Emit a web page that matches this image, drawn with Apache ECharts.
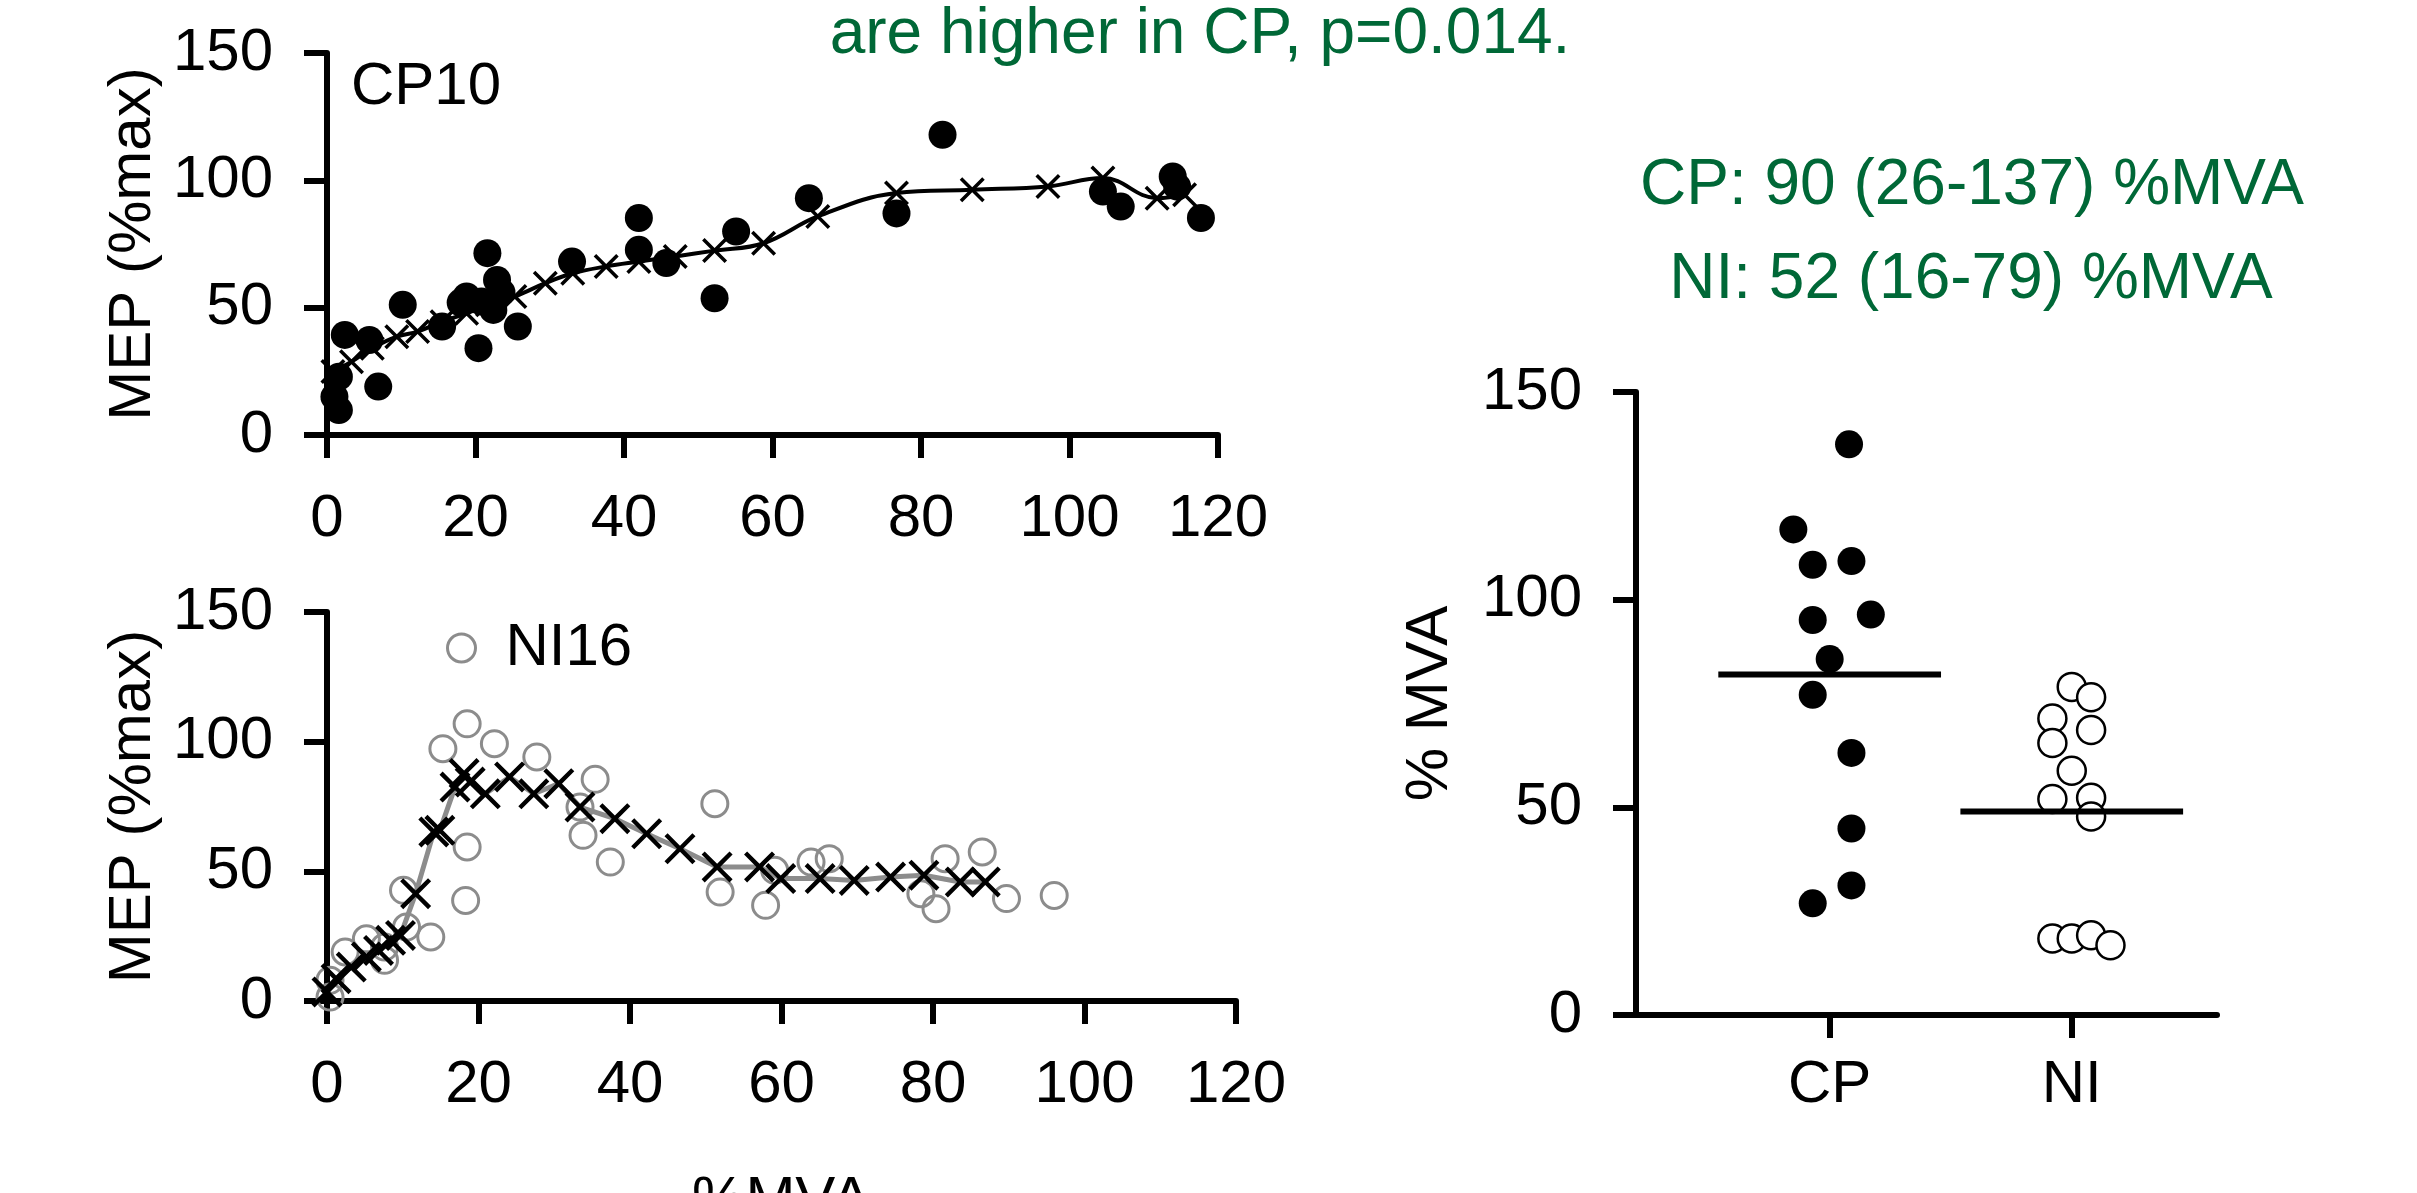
<!DOCTYPE html>
<html>
<head>
<meta charset="utf-8">
<title>MEP vs %MVA, CP and NI</title>
<script src="https://cdn.jsdelivr.net/npm/echarts@6/dist/echarts.min.js"></script>
<style>
html, body { margin: 0; padding: 0; background: #fff; }
#chart { width: 2417px; height: 1193px; }
</style>
</head>
<body>
<div id="chart"></div>
<script>
// CP10: single trials (%MVA, MEP %max)
const cpTrialMva = [82.9, 64.9, 76.7, 104.5, 106.9, 113.9, 114.5, 117.7, 42, 42, 45.7, 55.1, 52.2, 33, 21.6, 22.9, 18.8, 20.8, 22.4, 20.4, 25.7, 15.5, 10.2, 2.4, 5.7, 6.9, 1.6, 1.6, 1.0, 18, 23.5]
const cpTrialMep = [117.9, 93, 87, 95.6, 89.7, 101.5, 97.5, 85.2, 85.2, 72.7, 67.5, 79.9, 53.7, 68.1, 71.4, 60.9, 54.4, 52.4, 49.1, 34.1, 42.6, 42.6, 51.1, 39.3, 37.3, 19, 22.9, 9.8, 15, 52, 56]
// CP10: running average (crosses)
const cpAvgMva = [0.8, 3.3, 6.1, 9.4, 12.2, 15.5, 18.8, 21.6, 25.3, 29.4, 33.1, 37.6, 42, 46.9, 52.2, 58.8, 66.1, 76.7, 86.9, 97.1, 104.5, 111.8, 115.5]
const cpAvgMep = [24.9, 28.8, 34.1, 38.6, 40.6, 44.5, 47.8, 51.1, 54.4, 59.6, 63.5, 66.2, 68.1, 70.1, 72.4, 75.3, 85.8, 95, 96.3, 97.6, 100.9, 93, 94.3]

// NI16: single trials
const niTrialMva = [18.5, 15.3, 22.1, 27.7, 35.4, 33.4, 33.8, 37.4, 51.2, 51.9, 57.9, 59.1, 63.9, 66.3, 78.4, 80.4, 81.6, 86.5, 89.7, 96, 18.5, 18.3, 10.1, 13.7, 10.5, 7.6, 5.2, 2.4, 0.4, 0.4, 7.6]
const niTrialMep = [106.9, 97.3, 99.2, 94.1, 85.5, 74.8, 63.9, 53.6, 76.1, 42, 36.9, 50.4, 53.6, 54.9, 41.4, 35.6, 54.9, 57.5, 39.5, 40.7, 59.4, 38.8, 42.7, 24.7, 28.5, 15.7, 24, 18.9, 8, 1.5, 20.8]
// NI16: running average
const niAvgMva = [0, 1.2, 3.2, 5.2, 6.8, 8.4, 9.7, 11.7, 14.1, 14.9, 16.9, 18.1, 18.9, 20.9, 24.1, 27.3, 30.6, 33.4, 38, 42.2, 46.6, 51.5, 57.1, 59.9, 65.1, 69.6, 74.4, 78.8, 83.6, 86.9]
const niAvgMep = [3.5, 8.6, 13.1, 17, 19.5, 23.4, 25.3, 41.4, 65.2, 65.8, 82.5, 87.7, 84.4, 79.9, 86.4, 79.9, 83.8, 74.8, 70.3, 64.5, 58.7, 51.7, 51.7, 47.2, 47.2, 46.5, 47.8, 48.5, 45.9, 45.9]

// group summary: %MVA at MEP plateau, per subject
const groupNames = ['CP', 'NI']
const cpGroupX = [1.08, 0.85, 0.93, 1.09, 0.93, 1.17, 1.0, 0.93, 1.09, 1.09, 1.09, 0.93]
const cpGroupY = [137.4, 116.9, 108.4, 109.3, 95.1, 96.4, 85.7, 77.1, 63.1, 44.9, 31.2, 26.9]
const niGroupX = [2.0, 2.08, 1.92, 2.08, 1.92, 2.0, 1.92, 2.08, 2.08, 1.92, 2.0, 2.08, 2.16]
const niGroupY = [79, 76.5, 71.4, 68.6, 65.5, 58.8, 52, 52.3, 47.8, 18.4, 18.4, 19.2, 16.8]
const groupMedian = [82, 49]
const medianHalfWidth = 0.46

const FONT = '"Liberation Sans", Arial, sans-serif'
const GREEN = '#006837'
const GRAY = '#8c8c8c'
const crossPath = 'path://M0,2L2,0L10,8L18,0L20,2L12,10L20,18L18,20L10,12L2,20L0,18L8,10Z'

const zip = (a, b) => a.map((v, i) => [v, b[i]])

const axisLine = { show: true, onZero: false, lineStyle: { color: '#000', width: 6 } }
const axisTick = { show: true, inside: false, length: 23, lineStyle: { color: '#000', width: 6 } }
const label = (margin) => ({ fontSize: 60, color: '#000', fontFamily: FONT, margin: margin })
const nameStyle = { fontSize: 60, color: '#000', fontFamily: FONT }

const chartDom = echarts.init(document.getElementById('chart'))

const option = {
	backgroundColor: '#fff',
	animation: false,
	textStyle: { fontFamily: FONT },
	grid: [
		{ left: 327, top: 53, width: 891, height: 382, outerBoundsMode: 'none', containLabel: false },
		{ left: 327, top: 612, width: 909, height: 389, outerBoundsMode: 'none', containLabel: false },
		{ left: 1636, top: 392, width: 581, height: 623, outerBoundsMode: 'none', containLabel: false }
	],
	legend: {
		data: [ {
			name: 'NI16',
			icon: 'circle',
			itemStyle: { color: 'rgba(0,0,0,0)', borderColor: GRAY, borderWidth: 3, opacity: 1 }
		} ],
		left: 441,
		top: 613,
		itemWidth: 28,
		itemHeight: 28,
		selectedMode: false,
		textStyle: { fontSize: 60, color: '#000', fontFamily: FONT, padding: [0, 0, 0, 25] }
	},
	graphic: [
		{ type: 'text', x: 1200, y: 35, style: { text: 'are higher in CP, p=0.014.', fill: GREEN, fontSize: 64, fontFamily: FONT, align: 'center', verticalAlign: 'middle', textAlign: 'center', textVerticalAlign: 'middle' } },
		{ type: 'text', x: 1972, y: 186, style: { text: 'CP: 90 (26-137) %MVA', fill: GREEN, fontSize: 64, fontFamily: FONT, align: 'center', verticalAlign: 'middle', textAlign: 'center', textVerticalAlign: 'middle' } },
		{ type: 'text', x: 1971, y: 280, style: { text: 'NI: 52 (16-79) %MVA', fill: GREEN, fontSize: 64, fontFamily: FONT, align: 'center', verticalAlign: 'middle', textAlign: 'center', textVerticalAlign: 'middle' } },
		{ type: 'text', x: 351, y: 87, style: { text: 'CP10', fill: '#000', fontSize: 60, fontFamily: FONT, align: 'left', verticalAlign: 'middle', textAlign: 'left', textVerticalAlign: 'middle' } }
	],
	xAxis: [
		{
			gridIndex: 0, type: 'value', min: 0, max: 120, interval: 20,
			axisLine, axisTick, axisLabel: label(54), splitLine: { show: false }
		},
		{
			gridIndex: 1, type: 'value', min: 0, max: 120, interval: 20,
			name: '%MVA', nameLocation: 'middle', nameGap: 170, nameTextStyle: nameStyle,
			axisLine, axisTick, axisLabel: label(54), splitLine: { show: false }
		},
		{
			gridIndex: 2, type: 'value', min: 0.2, max: 2.6,
			axisLine,
			axisTick: Object.assign({}, axisTick, { customValues: [1, 2] }),
			axisLabel: Object.assign(label(40), {
				customValues: [1, 2],
				formatter: (v) => groupNames[Math.round(v) - 1]
			}),
			splitLine: { show: false }
		}
	],
	yAxis: [
		{
			gridIndex: 0, type: 'value', min: 0, max: 150, interval: 50,
			name: 'MEP (%max)', nameLocation: 'middle', nameGap: 164, nameTextStyle: nameStyle,
			axisLine, axisTick, axisLabel: label(54), splitLine: { show: false }
		},
		{
			gridIndex: 1, type: 'value', min: 0, max: 150, interval: 50,
			name: 'MEP (%max)', nameLocation: 'middle', nameGap: 164, nameTextStyle: nameStyle,
			axisLine, axisTick, axisLabel: label(54), splitLine: { show: false }
		},
		{
			gridIndex: 2, type: 'value', min: 0, max: 150, interval: 50,
			name: '% MVA', nameLocation: 'middle', nameGap: 176, nameTextStyle: nameStyle,
			axisLine, axisTick, axisLabel: label(54), splitLine: { show: false }
		}
	],
	series: [
		{
			name: 'CP10 trials', type: 'scatter', xAxisIndex: 0, yAxisIndex: 0,
			symbol: 'circle', symbolSize: 28,
			itemStyle: { color: '#000', opacity: 1 },
			data: zip(cpTrialMva, cpTrialMep)
		},
		{
			name: 'CP10 average', type: 'line', xAxisIndex: 0, yAxisIndex: 0,
			smooth: 0.4, symbol: crossPath, symbolSize: 25, showAllSymbol: true,
			itemStyle: { color: '#000', opacity: 1 },
			lineStyle: { color: '#000', width: 4 },
			z: 3,
			data: zip(cpAvgMva, cpAvgMep)
		},
		{
			name: 'NI16', type: 'scatter', xAxisIndex: 1, yAxisIndex: 1,
			symbol: 'circle', symbolSize: 26,
			itemStyle: { color: 'rgba(0,0,0,0)', borderColor: GRAY, borderWidth: 3, opacity: 1 },
			data: zip(niTrialMva, niTrialMep)
		},
		{
			name: 'NI16 average', type: 'line', xAxisIndex: 1, yAxisIndex: 1,
			symbol: crossPath, symbolSize: 31, showAllSymbol: true,
			itemStyle: { color: '#000', opacity: 1 },
			lineStyle: { color: GRAY, width: 5 },
			z: 3,
			data: zip(niAvgMva, niAvgMep)
		},
		{
			name: 'CP group', type: 'scatter', xAxisIndex: 2, yAxisIndex: 2,
			symbol: 'circle', symbolSize: 28,
			itemStyle: { color: '#000', opacity: 1 },
			data: zip(cpGroupX, cpGroupY)
		},
		{
			name: 'NI group', type: 'scatter', xAxisIndex: 2, yAxisIndex: 2,
			symbol: 'circle', symbolSize: 28,
			itemStyle: { color: '#fff', borderColor: '#000', borderWidth: 2.5, opacity: 1 },
			data: zip(niGroupX, niGroupY)
		},
		...groupMedian.map((m, i) => ({
			name: groupNames[i] + ' median', type: 'line', xAxisIndex: 2, yAxisIndex: 2,
			symbol: 'none',
			lineStyle: { color: '#000', width: 6 },
			z: 4,
			data: [ [i + 1 - medianHalfWidth, m], [i + 1 + medianHalfWidth, m] ]
		}))
	]
}

chartDom.setOption(option, true)
</script>
</body>
</html>
